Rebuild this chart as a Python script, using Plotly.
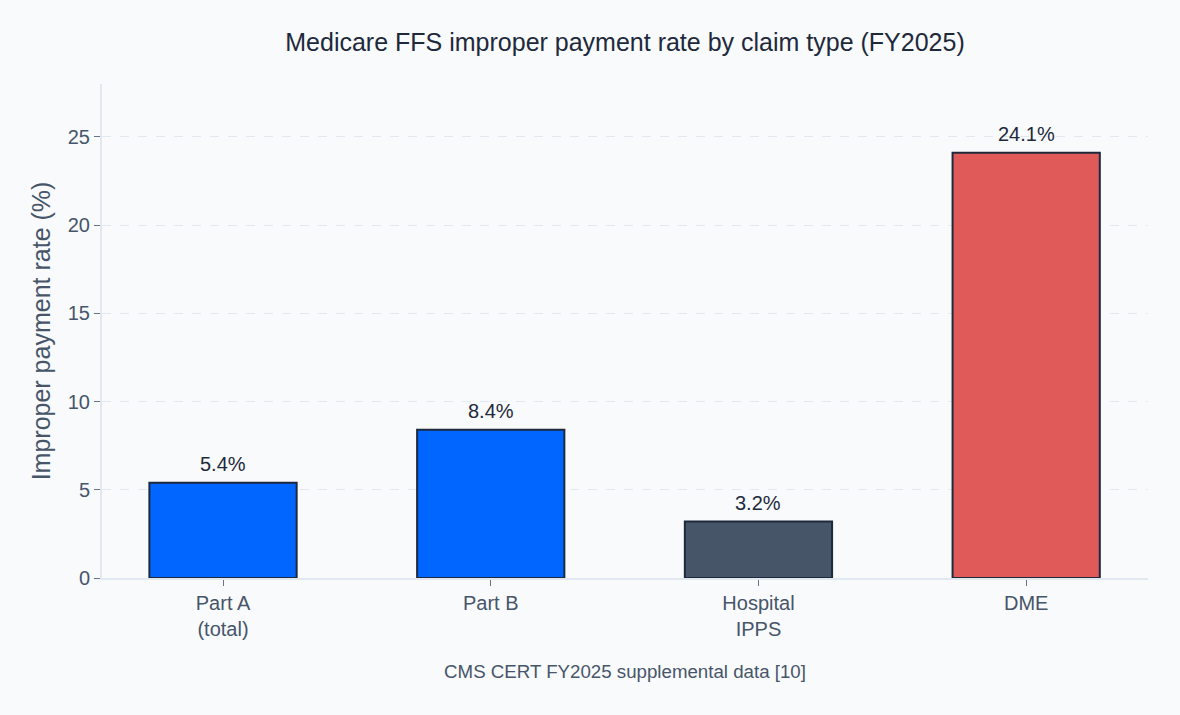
import plotly.graph_objects as go

categories = ["Part A<br>(total)", "Part B", "Hospital<br>IPPS", "DME"]
rates = [5.4, 8.4, 3.2, 24.1]
labels = ["5.4%", "8.4%", "3.2%", "24.1%"]
colors = ["#0066ff", "#0066ff", "#475569", "#e05a5a"]

fig = go.Figure(go.Bar(
    x=categories, y=rates,
    marker=dict(color=colors, line=dict(color="#1e293b", width=2)),
    width=0.55,
))

for c, v, t in zip(categories, rates, labels):
    fig.add_annotation(x=c, y=v, text=t, showarrow=False, yanchor="bottom", yshift=6,
                       font=dict(size=20, color="#1e293b"))

fig.update_layout(
    width=1180, height=715,
    paper_bgcolor="#f8fafc", plot_bgcolor="#f8fafc",
    font=dict(family="Liberation Sans, Arial, sans-serif", color="#475569"),
    title=dict(text="Medicare FFS improper payment rate by claim type (FY2025)",
               xref="paper", x=0.5, xanchor="center", y=0.941, yanchor="middle",
               font=dict(size=25, color="#1e293b")),
    margin=dict(l=102, r=32, t=84, b=137),
    showlegend=False,
    xaxis=dict(range=[-0.452, 3.455], showline=True, linecolor="#e2e8f0", linewidth=2,
               ticks="outside", ticklen=6, tickcolor="#64748b", tickfont=dict(size=20),
               title=dict(text="CMS CERT FY2025 supplemental data [10]", font=dict(size=18.7), standoff=26)),
    yaxis=dict(range=[0, 28], showline=True, linecolor="#e2e8f0", linewidth=2,
               ticks="outside", ticklen=6, tickcolor="#64748b", tickfont=dict(size=20),
               tickvals=[0, 5, 10, 15, 20, 25],
               showgrid=True, gridcolor="#e2e8f0", griddash="dash", gridwidth=1, zeroline=False,
               title=dict(text="Improper payment rate (%)", font=dict(size=25), standoff=10)),
)

fig.write_html("out.html")
